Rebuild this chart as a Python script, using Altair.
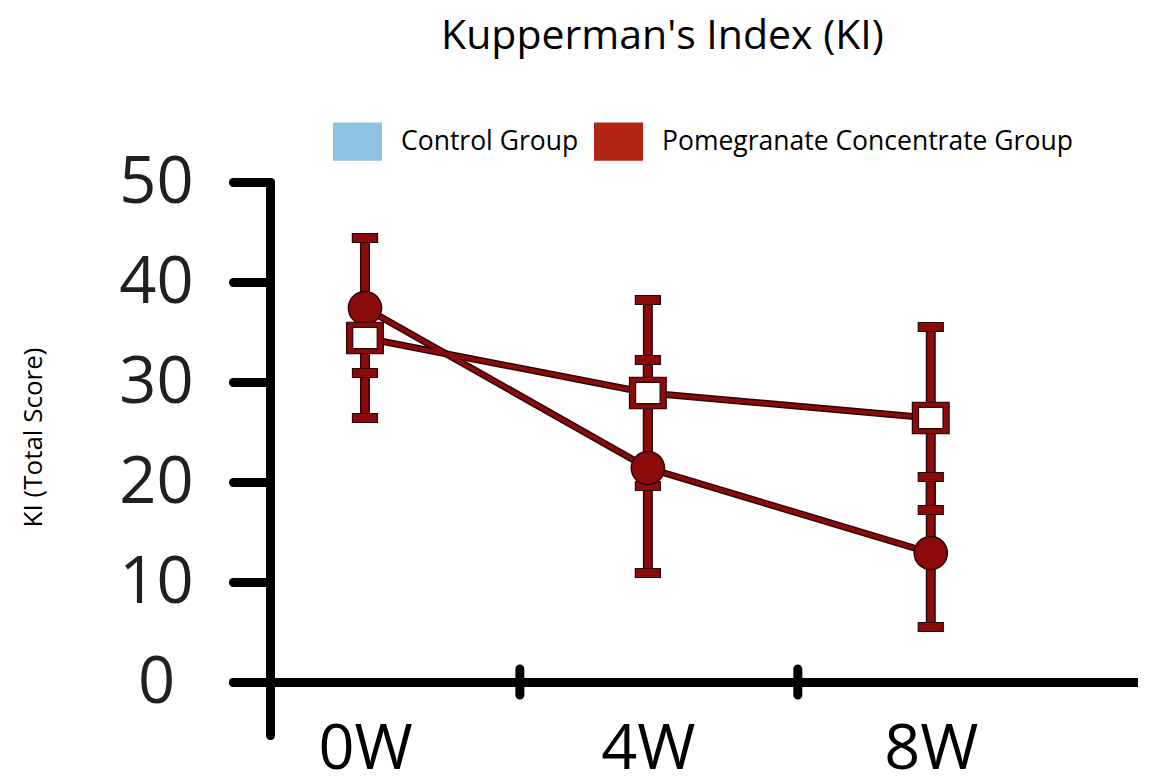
import altair as alt
import pandas as pd

# ---- data ----
weeks = [0, 4, 8]
groups = ["Control Group", "Pomegranate Concentrate Group"]
control_mean = [34.4, 28.9, 26.4]
control_low = [26.4, 19.6, 17.2]
control_high = [44.4, 38.2, 35.5]
pome_mean = [37.4, 21.4, 12.9]
pome_low = [30.9, 10.9, 5.5]
pome_high = [44.4, 32.2, 20.5]
separator_ticks = [2.19, 6.12]
y_ticks = [0, 10, 20, 30, 40, 50]
legend_colors = ["#8dc2e0", "#b22413"]

RED = "#8b0b0b"
DARK = "#2a0505"
FONT = "Open Sans"
RECT = "M-1,-0.86L1,-0.86L1,0.86L-1,0.86Z"
LEG_RECT = "M-1,-0.78L1,-0.78L1,0.78L-1,0.78Z"

rows = []
for g, m, lo, hi in [(groups[0], control_mean, control_low, control_high),
                     (groups[1], pome_mean, pome_low, pome_high)]:
    for w, a, b, c in zip(weeks, m, lo, hi):
        rows.append({"group": g, "week": w, "mean": a, "low": b, "high": c})
df = pd.DataFrame(rows)
sep_df = pd.DataFrame({"week": separator_ticks})

xscale = alt.Scale(domain=[-1.866, 10.93], nice=False, zero=False)
yscale = alt.Scale(domain=[-5.3, 50], nice=False, zero=False)

xaxis = alt.Axis(orient="bottom", offset=-53, values=weeks, labelExpr="datum.value + 'W'",
                 ticks=False, grid=False, title=None, domainColor="black", domainWidth=9,
                 domainCap="round", labelFont=FONT, labelFontSize=63, labelColor="black",
                 labelPadding=36, labelBaseline="top", labelFlush=False, labelOverlap=False)
yaxis = alt.Axis(orient="left", offset=-37, values=y_ticks, grid=False,
                 title="KI (Total Score)", titleFont=FONT, titleFontSize=26,
                 titleFontWeight="normal", titleColor="black", titleX=-237, titleY=255,
                 titleAlign="center", titleBaseline="middle", titleAngle=-90,
                 domainColor="black", domainWidth=9, domainCap="round",
                 tickColor="black", tickWidth=9, tickSize=37, tickCap="round",
                 labelFont=FONT, labelFontSize=65, labelColor="#231f20",
                 labelAlign="center", labelPadding=77, labelFlush=False, labelOverlap=False)

X = alt.X("week:Q", scale=xscale, axis=xaxis)

base = alt.Chart(df)

line_dark = base.mark_line(color=DARK, strokeWidth=7).encode(
    x=X, y=alt.Y("mean:Q", scale=yscale, axis=yaxis), detail="group:N")
line_red = base.mark_line(color=RED, strokeWidth=4).encode(
    x=X, y=alt.Y("mean:Q", scale=yscale, axis=yaxis), detail="group:N")

bar_dark = base.mark_rule(color=DARK, strokeWidth=10).encode(
    x=X, y=alt.Y("low:Q", scale=yscale, axis=yaxis), y2="high:Q")
bar_red = base.mark_rule(color=RED, strokeWidth=7).encode(
    x=X, y=alt.Y("low:Q", scale=yscale, axis=yaxis), y2="high:Q")

cap_low = base.mark_tick(orient="horizontal", size=25, thickness=9, color=RED, opacity=1,
                         stroke=DARK, strokeWidth=1.2).encode(
    x=X, y=alt.Y("low:Q", scale=yscale, axis=yaxis))
cap_high = base.mark_tick(orient="horizontal", size=25, thickness=9, color=RED, opacity=1,
                          stroke=DARK, strokeWidth=1.2).encode(
    x=X, y=alt.Y("high:Q", scale=yscale, axis=yaxis))

circles = base.transform_filter(alt.datum.group == groups[1]).mark_circle(
    size=1100, color=RED, opacity=1, stroke=DARK, strokeWidth=1.5).encode(
    x=X, y=alt.Y("mean:Q", scale=yscale, axis=yaxis))

sq_outer = base.transform_filter(alt.datum.group == groups[0]).mark_point(
    shape=RECT, size=1444, filled=True, fill=DARK, opacity=1, strokeWidth=0).encode(
    x=X, y=alt.Y("mean:Q", scale=yscale, axis=yaxis))
sq_red = base.transform_filter(alt.datum.group == groups[0]).mark_point(
    shape=RECT, size=1260, filled=True, fill=RED, opacity=1, strokeWidth=0).encode(
    x=X, y=alt.Y("mean:Q", scale=yscale, axis=yaxis))
sq_white = base.transform_filter(alt.datum.group == groups[0]).mark_point(
    shape=RECT, size=600, filled=False, fill="white", stroke=DARK, strokeWidth=1.2,
    opacity=1, fillOpacity=1).encode(
    x=X, y=alt.Y("mean:Q", scale=yscale, axis=yaxis))

sep = alt.Chart(sep_df).mark_tick(orient="vertical", size=35, thickness=9, color="black",
                                  opacity=1, cornerRadius=4.5).encode(
    x=X, y=alt.YDatum(0, scale=yscale, axis=yaxis))

legend_layer = base.transform_filter("false").mark_point(
    shape=LEG_RECT, filled=True, opacity=1).encode(
    x=X, y=alt.Y("mean:Q", scale=yscale, axis=yaxis),
    color=alt.Color("group:N", scale=alt.Scale(domain=groups, range=legend_colors),
                    legend=alt.Legend(orient="none", legendX=100, legendY=-65,
                                      direction="horizontal", title=None,
                                      symbolType=LEG_RECT, symbolSize=2401,
                                      symbolStrokeWidth=0, symbolOpacity=1,
                                      labelFont=FONT, labelFontSize=26.5, labelLimit=0,
                                      labelColor="black", labelOffset=19,
                                      columnPadding=15, padding=0)))

chart = alt.layer(
    sep, line_dark, line_red, bar_dark, bar_red, cap_low, cap_high,
    circles, sq_outer, sq_red, sq_white, legend_layer
).properties(
    width=905, height=553,
    title=alt.TitleParams("Kupperman's Index (KI)", font=FONT, fontSize=41,
                          fontWeight="normal", color="black", anchor="middle",
                          frame="group", offset=59, dx=-23),
    autosize=alt.AutoSizeParams(type="none"),
    padding={"left": 225, "top": 174, "right": 0, "bottom": 50},
).configure_view(stroke=None)

chart.save("out.html", embed_options={"renderer": "svg", "actions": False})
